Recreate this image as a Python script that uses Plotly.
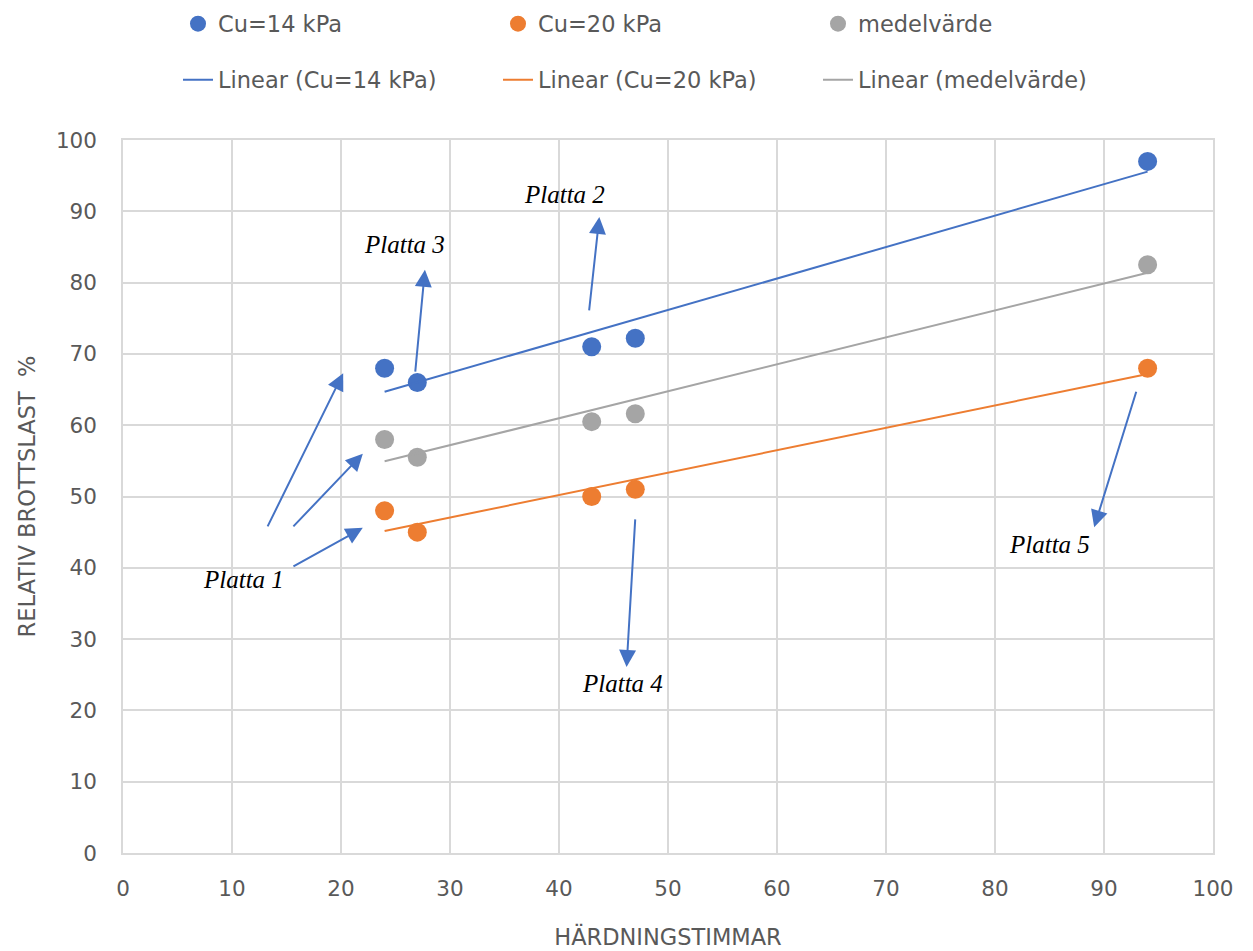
import numpy as np
import plotly.graph_objects as go

# Curing hours and relative failure load per test slab
hours = [24, 27, 43, 47, 94]
cu14 = [68.0, 66.0, 71.0, 72.2, 97.0]
cu20 = [48.0, 45.0, 50.0, 51.0, 68.0]
mean_vals = [(a + b) / 2 for a, b in zip(cu14, cu20)]

x_ticks = list(range(0, 101, 10))
y_ticks = list(range(0, 101, 10))

# Slab labels and their arrows: (label, label_x, label_y, [(tail_x, tail_y, head_x, head_y), ...])
slab_notes = [
    ("Platta 1", 11.1, 38.3, [(13.2, 45.6, 20.2, 67.3),
                              (15.5, 45.6, 22.0, 56.0),
                              (15.5, 40.1, 22.0, 45.6)]),
    ("Platta 2", 40.5, 92.3, [(42.75, 75.9, 43.7, 89.2)]),
    ("Platta 3", 25.8, 85.3, [(26.8, 67.3, 27.7, 81.8)]),
    ("Platta 4", 45.8, 23.8, [(47.0, 47.0, 46.2, 26.1)]),
    ("Platta 5", 85.0, 43.2, [(93.0, 64.9, 89.1, 45.7)]),
]

BLUE = "#4472c4"
ORANGE = "#ed7d31"
GRAY = "#a5a5a5"
TEXT = "#595959"
GRID = "#d9d9d9"
FONT = "DejaVu Sans"

series = [
    ("Cu=14 kPa", cu14, BLUE),
    ("Cu=20 kPa", cu20, ORANGE),
    ("medelvärde", mean_vals, GRAY),
]

fig = go.Figure()

for name, vals, color in series:
    fig.add_trace(go.Scatter(
        x=hours, y=vals, mode="markers", name=name,
        marker=dict(color=color, size=19),
        legend="legend",
    ))

x_arr = np.array(hours, dtype=float)
x_line = np.array([x_arr.min(), x_arr.max()])
for name, vals, color in series:
    slope, intercept = np.polyfit(x_arr, np.array(vals), 1)
    fig.add_trace(go.Scatter(
        x=x_line, y=slope * x_line + intercept, mode="lines",
        name=f"Linear ({name})",
        line=dict(color=color, width=2),
        legend="legend2",
    ))

annotations = []
for label, lx, ly, arrows in slab_notes:
    annotations.append(dict(
        x=lx, y=ly, xref="x", yref="y", text=label, showarrow=False,
        font=dict(family="Liberation Serif", size=25, color="black", style="italic"),
    ))
    for tx, ty, hx, hy in arrows:
        annotations.append(dict(
            x=hx, y=hy, ax=tx, ay=ty, xref="x", yref="y", axref="x", ayref="y",
            text="", showarrow=True, arrowhead=2, arrowsize=1.7, arrowwidth=2,
            arrowcolor=BLUE, standoff=0, startstandoff=0,
        ))

axis_common = dict(
    showgrid=True, gridcolor=GRID, gridwidth=1.5,
    showline=True, linecolor=GRID, linewidth=1.5, mirror=True,
    zeroline=False, ticks="", tickfont=dict(family=FONT, size=21.5, color=TEXT),
    range=[0, 100], automargin=False,
)

legend_common = dict(
    orientation="h", xref="container", yref="container",
    xanchor="left", yanchor="middle",
    entrywidth=275, entrywidthmode="pixels",
    font=dict(family=FONT, size=22.5, color=TEXT), bgcolor="rgba(0,0,0,0)",
)

fig.update_layout(
    width=1253, height=951,
    margin=dict(l=123, r=40, t=140, b=98),
    paper_bgcolor="white", plot_bgcolor="white",
    font=dict(family=FONT, color=TEXT),
    xaxis=dict(**axis_common, tickvals=x_ticks, ticklabelstandoff=15,
               title=dict(text="HÄRDNINGSTIMMAR", font=dict(family=FONT, size=22.5, color=TEXT), standoff=30)),
    yaxis=dict(**axis_common, tickvals=y_ticks, ticklabelstandoff=20,
               title=dict(text="RELATIV BROTTSLAST\u00a0 %", font=dict(family=FONT, size=22.5, color=TEXT), standoff=14)),
    legend=dict(**legend_common, x=178 / 1253, y=1 - 24 / 951),
    legend2=dict(**legend_common, x=178 / 1253, y=1 - 80 / 951),
    annotations=annotations,
    showlegend=True,
)

fig.write_html("out.html")
